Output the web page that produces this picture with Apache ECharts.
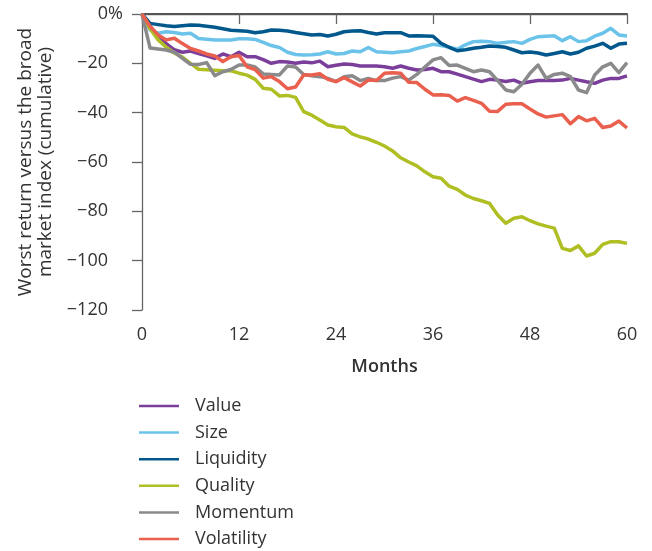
<!DOCTYPE html>
<html>
<head>
<meta charset="utf-8">
<script src="https://cdn.jsdelivr.net/npm/echarts@6/dist/echarts.min.js"></script>
<style>
html,body{margin:0;padding:0;background:#fff;}
#chart{width:652px;height:551px;}
</style>
</head>
<body>
<div id="chart"></div>
<script>
const months = Array.from({length: 61}, (_, i) => i);
const xTicks = [0, 12, 24, 36, 48, 60];
const yTicks = [0, -20, -40, -60, -80, -100, -120];

const valueSeries = [0,-5,-9,-12,-14.5,-15.5,-15,-16,-17,-18,-16.2,-17.3,-15.5,-17.3,-17.3,-18.5,-20,-19.3,-19.5,-20,-19.5,-19.8,-19.1,-21.4,-20.8,-20.3,-20.5,-21.1,-21.1,-21.1,-21.4,-22,-21.1,-22,-22.7,-22.5,-22,-23.4,-23.4,-24.4,-25.4,-26.4,-27.4,-26.5,-26.8,-27.4,-26.8,-28.1,-27.5,-27,-27,-27,-26.8,-26.1,-26.8,-27.5,-28.1,-26.8,-26.1,-26.1,-25.1];
const sizeSeries = [0,-6.5,-7.8,-7.2,-7.5,-8.1,-7.8,-9.9,-10.2,-10.5,-10.5,-10.5,-10,-10,-10.3,-11.5,-12.8,-13.6,-15.5,-16.4,-16.6,-16.5,-16.2,-15.3,-16.2,-16,-15,-15.3,-13.6,-15.3,-15.5,-15.7,-15.3,-15,-14,-13.2,-12.3,-12.8,-13.5,-14.3,-12.5,-11.2,-11,-11.2,-11.9,-11.5,-11.2,-11.9,-10.3,-9.2,-9,-8.8,-10.8,-9.2,-11.2,-10.8,-9,-7.8,-5.8,-8.5,-8.9];
const liquiditySeries = [0,-3.8,-4.3,-4.8,-5.1,-4.8,-4.5,-4.6,-5,-5.4,-6,-6.6,-6.8,-7,-7.6,-7.2,-6.5,-6.6,-6.9,-7.5,-8,-8.5,-8.3,-8.9,-8.2,-7.2,-6.9,-6.8,-7.5,-8.1,-7.6,-7.6,-7.6,-8.9,-8.8,-8.9,-9,-11.9,-13.5,-14.9,-14.5,-13.9,-13.5,-13,-13.2,-13.5,-14.6,-15.7,-15.4,-15.8,-16.6,-16,-15.3,-16.2,-15.5,-13.9,-13,-11.9,-13.9,-12.2,-11.9];
const qualitySeries = [0,-6,-10.5,-13.5,-15.8,-17.5,-20,-22.4,-22.6,-22.8,-23,-23,-24,-24.8,-26.5,-30.1,-30.5,-33.2,-33,-33.8,-39.6,-41,-43,-45,-45.7,-46,-48.6,-49.8,-50.7,-52,-53.5,-55.5,-58.3,-60,-61.6,-64,-66,-66.6,-69.8,-71.1,-73.4,-74.8,-75.7,-76.8,-81.5,-84.8,-82.8,-82.2,-83.8,-85.1,-86,-86.8,-95,-95.9,-94,-98.1,-97,-93.4,-92.3,-92.3,-93];
const momentumSeries = [0,-13.8,-14.2,-14.6,-15.5,-18,-20.4,-20.5,-19.7,-25,-23.4,-22.5,-20.7,-20.7,-21.5,-24.3,-24.5,-24.7,-21.1,-21.5,-24.5,-25,-25.4,-26.1,-27.4,-25.4,-25,-27,-26.1,-27,-27,-26,-25.4,-26.8,-24.5,-21.5,-18.6,-17.7,-20.9,-20.7,-22,-23.4,-22.7,-23.4,-27,-30.8,-31.5,-28.5,-24,-20.7,-26.1,-24.5,-24,-25.4,-30.8,-31.9,-24.7,-21.4,-20,-23.8,-19.7];
const volatilitySeries = [0,-5,-8.5,-10.5,-9.8,-12,-14,-15,-16.2,-17,-19.3,-17.3,-16.8,-21.4,-22.5,-26,-25.4,-27.4,-30.3,-29.6,-24.7,-24.7,-24.2,-26.5,-27.4,-25.8,-27.5,-29.2,-26.8,-27,-24,-23.8,-24,-27.7,-27.8,-30.5,-32.8,-32.7,-33,-35.3,-33.9,-35,-36.2,-39.4,-39.5,-36.6,-36.4,-36.4,-38.5,-40.5,-41.8,-41.3,-40.8,-44.5,-41.6,-43.3,-42.3,-46,-45.4,-43.4,-46.2];

const seriesNames = ['Value','Size','Liquidity','Quality','Momentum','Volatility'];
const seriesColors = ['#7B3F9B','#6CC3EA','#00588C','#AFBE22','#8A8A8C','#EA604E'];
const seriesValues = [valueSeries,sizeSeries,liquiditySeries,qualitySeries,momentumSeries,volatilitySeries];

const FONT = 'Open Sans';
const TXT = '#333333';
const AX = '#666666';
const FS = 18;

const chart = echarts.init(document.getElementById('chart'), null, {renderer: 'canvas'});
chart.setOption({
  animation: false,
  backgroundColor: '#ffffff',
  textStyle: {fontFamily: FONT},
  grid: {left: 142, top: 14, right: 25, bottom: 241, containLabel: false},
  legend: {
    orient: 'vertical', left: 139, top: 397, padding: 0, height: 154,
    itemWidth: 40, itemHeight: 14, itemGap: 8.6,
    icon: 'path://M0,6 L40,6 L40,8.5 L0,8.5 Z',
    textStyle: {color: TXT, fontSize: FS, lineHeight: 17, fontFamily: FONT, padding: [0,0,0,11]},
    data: seriesNames
  },
  xAxis: [{
    type: 'value', min: 0, max: 60, interval: 12,
    name: 'Months', nameLocation: 'middle', nameGap: 48,
    nameTextStyle: {color: TXT, fontSize: FS, fontWeight: 600, fontFamily: FONT},
    axisLine: {show: true, lineStyle: {color: AX, width: 1.3}},
    axisTick: {show: true, length: 10, inside: false, lineStyle: {color: AX, width: 1.3}},
    axisLabel: {color: TXT, fontSize: FS, margin: 16, fontFamily: FONT,
      customValues: xTicks},
    splitLine: {show: false}
  }, {
    type: 'value', min: 0, max: 60, position: 'top',
    axisLine: {show: true, onZero: false, lineStyle: {color: '#555555', width: 2}},
    axisTick: {show: false}, axisLabel: {show: false}, splitLine: {show: false}
  }],
  yAxis: {
    type: 'value', min: -120, max: 0, interval: 20,
    name: 'Worst return versus the broad\nmarket index (cumulative)',
    nameLocation: 'middle', nameGap: 81, nameRotate: 90,
    nameTextStyle: {color: TXT, fontSize: 19, lineHeight: 20, fontFamily: FONT},
    axisLine: {show: true, onZero: false, lineStyle: {color: AX, width: 1.3}},
    axisTick: {show: true, length: 10, lineStyle: {color: AX, width: 1.3}},
    axisLabel: {
      color: TXT, fontSize: FS, margin: 34, fontFamily: FONT,
      formatter: function (v) {
        if (v === 0) return '{a|0}{p|%}';
        return '\u2212' + Math.abs(v);
      },
      rich: {
        a: {color: TXT, fontSize: FS, fontFamily: FONT, align: 'left'},
        p: {color: TXT, fontSize: FS, fontFamily: FONT, align: 'left', width: 0}
      }
    },
    splitLine: {show: false}
  },
  series: seriesNames.map((name, i) => ({
    name: name, type: 'line', xAxisIndex: 0,
    data: months.map((m, j) => [m, seriesValues[i][j]]),
    symbol: 'none', showSymbol: false,
    lineStyle: {color: seriesColors[i], width: 3.5, join: 'round'},
    itemStyle: {color: seriesColors[i]}
  }))
});
</script>
</body>
</html>
